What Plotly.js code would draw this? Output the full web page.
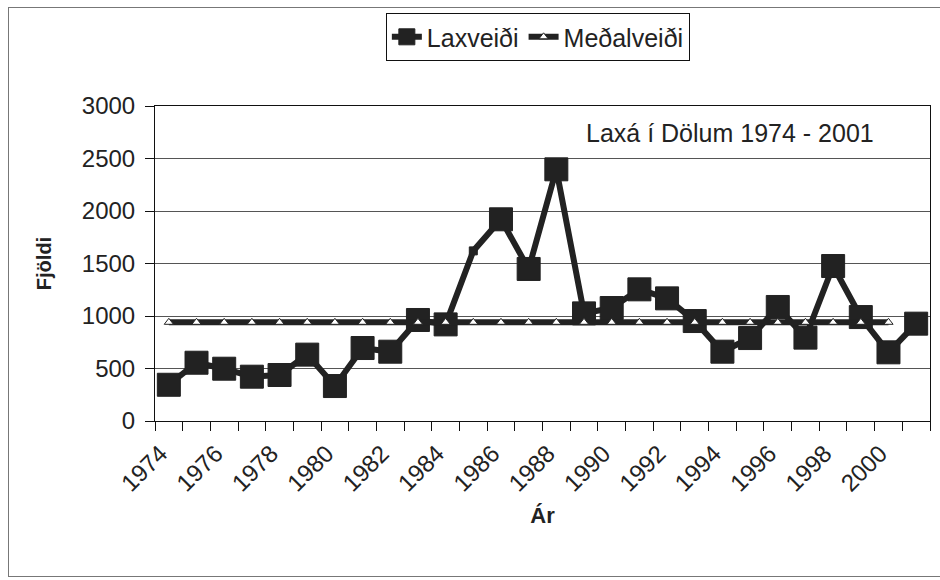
<!DOCTYPE html>
<html>
<head>
<meta charset="utf-8">
<script src="https://cdn.plot.ly/plotly-3.0.1.min.js"></script>
<style>
  html, body { margin: 0; padding: 0; background: #fff; }
  #wrap { position: relative; width: 940px; height: 580px; overflow: hidden; }
  #frame { position: absolute; left: 8px; top: 7px; width: 940px; height: 570px;
           border: 1px solid #777; border-right: none; box-sizing: border-box; pointer-events: none; }
  #chart { position: absolute; left: 0; top: 0; width: 940px; height: 580px; }
</style>
</head>
<body>
<div id="wrap">
  <div id="chart"></div>
  <div id="frame"></div>
</div>
<script>
// Data
const years = [1974, 1975, 1976, 1977, 1978, 1979, 1980, 1981, 1982, 1983,
               1984, 1985, 1986, 1987, 1988, 1989, 1990, 1991, 1992, 1993,
               1994, 1995, 1996, 1997, 1998, 1999, 2000, 2001];
const laxveidi = [345, 555, 498, 422, 438, 632, 333, 695, 660, 962,
                  920, 1620, 1921, 1448, 2397, 1025, 1076, 1254, 1168, 952,
                  660, 790, 1086, 794, 1476, 990, 654, 927];
const medalveidi = [940, 940, 940, 940, 940, 940, 940, 940, 940, 940,
                    940, 940, 940, 940, 940, 940, 940, 940, 940, 940,
                    940, 940, 940, 940, 940, 940, 940, null];
const tickYears = [1974, 1976, 1978, 1980, 1982, 1984, 1986, 1988,
                   1990, 1992, 1994, 1996, 1998, 2000];
const seriesNames = ['Laxveiði', 'Meðalveiði'];
const chartNote = 'Laxá í Dölum 1974 - 2001';

const FONT = 'Arial, "Liberation Sans", sans-serif';
const INK = '#222222';

const squareSizes = years.map(y => (y === 1985 ? 8 : 23));
// rotated labels sit slightly left of their category centre, as in the original
const labelShift = -0.3;

const traces = [
  {
    x: years, y: laxveidi, name: seriesNames[0],
    type: 'scatter', mode: 'lines+markers',
    line: { color: INK, width: 6 },
    marker: { symbol: 'square', size: squareSizes, opacity: 1, color: INK, line: { color: INK, width: 1 } }
  },
  {
    x: years, y: medalveidi, name: seriesNames[1],
    type: 'scatter', mode: 'lines+markers',
    line: { color: INK, width: 6 },
    marker: { symbol: 'triangle-up', size: 8, opacity: 1, color: '#ffffff', line: { color: INK, width: 1 } }
  }
];

const layout = {
  width: 940, height: 580,
  margin: { l: 155, r: 10, t: 106, b: 159 },
  paper_bgcolor: 'rgba(0,0,0,0)',
  plot_bgcolor: '#ffffff',
  font: { family: FONT, color: INK, size: 22 },
  showlegend: true,
  legend: {
    orientation: 'h', x: 0.494, xanchor: 'center', y: 1.295, yanchor: 'top',
    bordercolor: '#111', borderwidth: 1, bgcolor: '#fff',
    font: { family: FONT, size: 25, color: INK },
    itemsizing: 'trace', tracegroupgap: 0
  },
  xaxis: {
    type: 'linear', range: [1973.5, 2001.5],
    tickmode: 'array', tickvals: tickYears.map(y => y + labelShift), ticktext: tickYears.map(String),
    tickangle: -45, ticks: '', ticklen: 0, ticklabelstandoff: 8,
    tickfont: { family: FONT, size: 24, color: INK },
    showgrid: false, zeroline: false,
    showline: true, linecolor: '#111', linewidth: 1, mirror: true,
    minor: { tickmode: 'linear', tick0: 1973.5, dtick: 1, ticks: 'outside', ticklen: 9, tickcolor: '#111', showgrid: false },
    title: { text: '<b>Ár</b>', font: { family: FONT, size: 22, color: INK }, standoff: 12 },
    automargin: true
  },
  yaxis: {
    range: [0, 3000], tickmode: 'linear', tick0: 0, dtick: 500,
    ticks: 'outside', ticklen: 9, tickcolor: '#111',
    tickfont: { family: FONT, size: 24, color: INK },
    ticklabelstandoff: 5,
    showgrid: true, gridcolor: '#555', gridwidth: 1, zeroline: false,
    showline: true, linecolor: '#111', linewidth: 1, mirror: true,
    title: { text: '<b>Fjöldi</b>', font: { family: FONT, size: 20, color: INK }, standoff: 24 },
    automargin: true
  },
  annotations: [
    {
      text: chartNote, xref: 'paper', yref: 'paper', x: 0.93, y: 0.914,
      xanchor: 'right', yanchor: 'middle', showarrow: false,
      font: { family: FONT, size: 25, color: INK }
    }
  ]
};

Plotly.newPlot('chart', traces, layout, { displayModeBar: false, staticPlot: true });
</script>
</body>
</html>
